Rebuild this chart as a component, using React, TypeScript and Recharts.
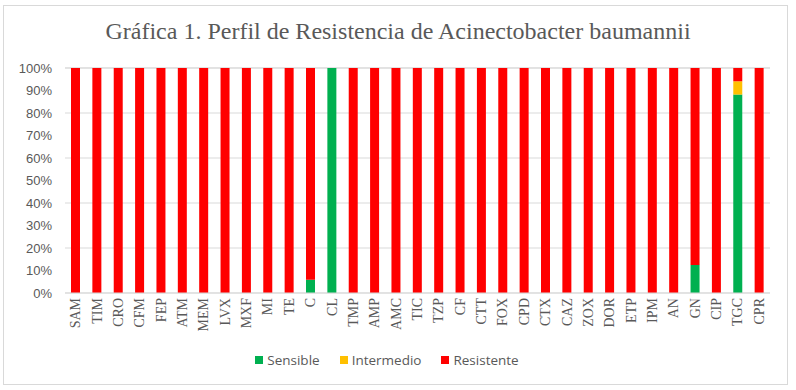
import { Bar, BarChart, CartesianGrid, Legend, XAxis, YAxis } from "recharts"

const antibioticos = [
  "SAM", "TIM", "CRO", "CFM", "FEP", "ATM", "MEM", "LVX", "MXF", "MI", "TE",
  "C", "CL", "TMP", "AMP", "AMC", "TIC", "TZP", "CF", "CTT", "FOX", "CPD",
  "CTX", "CAZ", "ZOX", "DOR", "ETP", "IPM", "AN", "GN", "CIP", "TGC", "CPR",
]

const sensible = [
  0, 0, 0, 0, 0, 0, 0, 0, 0, 0, 0,
  5.9, 100, 0, 0, 0, 0, 0, 0, 0, 0, 0,
  0, 0, 0, 0, 0, 0, 0, 12.5, 0, 88.2, 0,
]

const intermedio = [
  0, 0, 0, 0, 0, 0, 0, 0, 0, 0, 0,
  0, 0, 0, 0, 0, 0, 0, 0, 0, 0, 0,
  0, 0, 0, 0, 0, 0, 0, 0, 0, 5.9, 0,
]

const resistente = [
  100, 100, 100, 100, 100, 100, 100, 100, 100, 100, 100,
  94.1, 0, 100, 100, 100, 100, 100, 100, 100, 100, 100,
  100, 100, 100, 100, 100, 100, 100, 87.5, 100, 5.9, 100,
]

const yTicks = [0, 10, 20, 30, 40, 50, 60, 70, 80, 90, 100]

const series = [
  { key: "Sensible", color: "#00B050" },
  { key: "Intermedio", color: "#FFC000" },
  { key: "Resistente", color: "#FF0000" },
]

const data = antibioticos.map((name, i) => ({
  name,
  Sensible: sensible[i],
  Intermedio: intermedio[i],
  Resistente: resistente[i],
}))

const gray = "#595959"

function XTick(props: any) {
  const { x, y, payload } = props
  return (
    <text
      x={x}
      y={y}
      transform={`rotate(-90, ${x}, ${y})`}
      textAnchor="end"
      dominantBaseline="central"
      fill={gray}
      fontSize={14}
      fontFamily="'Liberation Serif', serif"
    >
      {payload.value}
    </text>
  )
}

function LegendBox() {
  return (
    <div
      style={{
        display: "flex",
        justifyContent: "center",
        gap: 20,
        fontFamily: "'Open Sans', sans-serif",
        fontSize: 13.5,
        color: gray,
        lineHeight: "18px",
        paddingLeft: 4,
      }}
    >
      {series.map((s) => (
        <span key={s.key} style={{ display: "flex", alignItems: "center" }}>
          <span style={{ width: 8, height: 8, background: s.color, marginRight: 4, display: "inline-block" }} />
          {s.key}
        </span>
      ))}
    </div>
  )
}

export default function App() {
  return (
    <div style={{ position: "absolute", left: 0, top: 0, width: 796, height: 390, background: "#fff" }}>
      <div
        style={{
          position: "absolute",
          left: 3,
          top: 5,
          width: 785,
          height: 380,
          border: "1px solid #d9d9d9",
          boxSizing: "border-box",
        }}
      />
      <div
        style={{
          position: "absolute",
          left: 0,
          top: 18,
          width: 796,
          textAlign: "center",
          fontFamily: "'Liberation Serif', serif",
          fontSize: 24,
          color: gray,
        }}
      >
        Gráfica 1. Perfil de Resistencia de Acinectobacter baumannii
      </div>
      <BarChart
        width={796}
        height={390}
        data={data}
        margin={{ top: 68, right: 26, left: 0, bottom: 21 }}
        barSize={9}
        style={{ position: "absolute", left: 0, top: 0 }}
      >
        <CartesianGrid vertical={false} stroke="#d9d9d9" />
        <XAxis
          dataKey="name"
          interval={0}
          tick={<XTick />}
          tickLine={false}
          tickSize={0}
          axisLine={{ stroke: "#d9d9d9" }}
          tickMargin={5}
          height={58}
        />
        <YAxis
          width={65}
          domain={[0, 100]}
          ticks={yTicks}
          tickFormatter={(v: number) => `${v}%`}
          tickLine={false}
          tickSize={0}
          axisLine={false}
          tickMargin={13}
          tick={{ fill: gray, fontSize: 13, fontFamily: "'Liberation Sans', sans-serif" }}
        />
        <Legend verticalAlign="bottom" content={<LegendBox />} height={18} />
        {series.map((s) => (
          <Bar key={s.key} dataKey={s.key} stackId="a" fill={s.color} isAnimationActive={false} />
        ))}
      </BarChart>
    </div>
  )
}
